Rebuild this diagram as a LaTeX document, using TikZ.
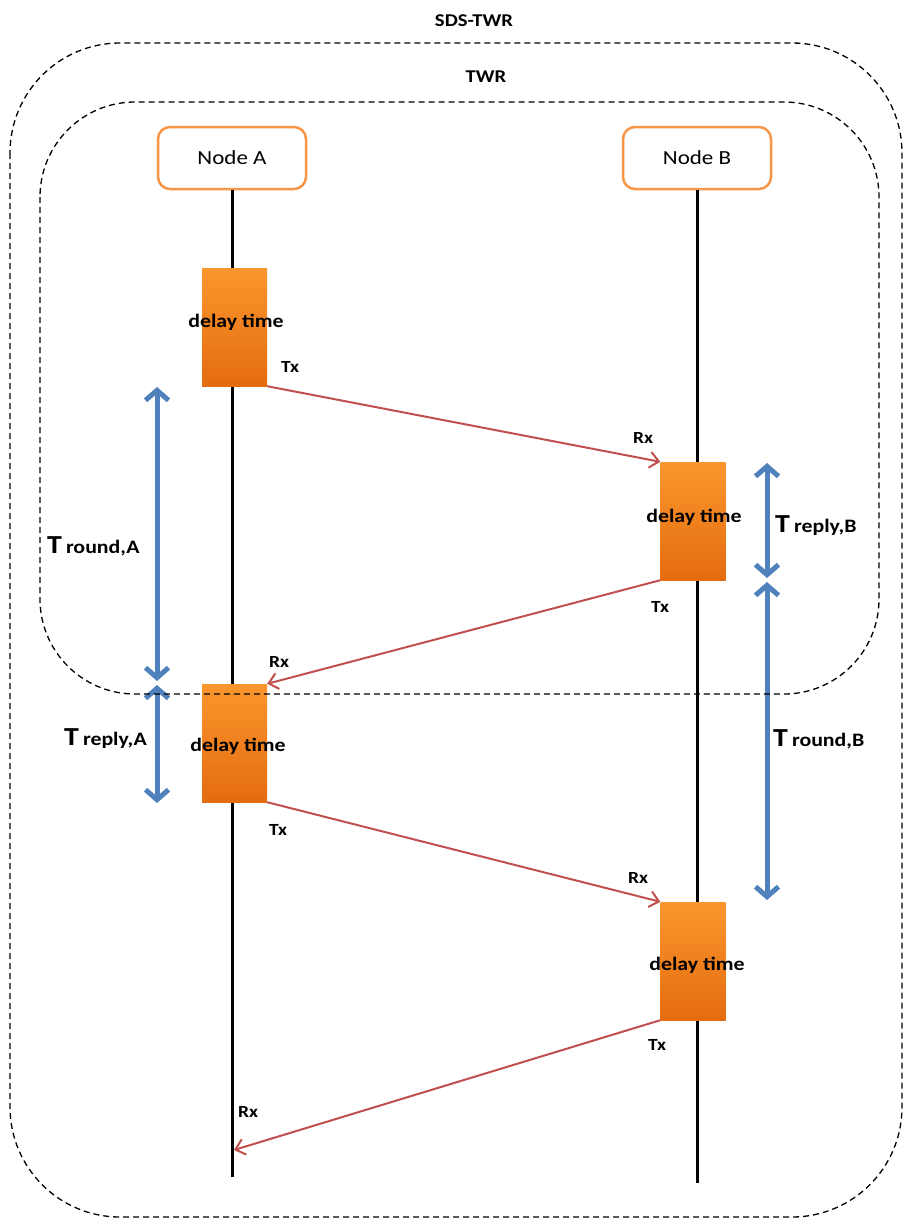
\documentclass[tikz,border=0pt]{standalone}
\usepackage{fontspec}
\setmainfont{Carlito}[FakeStretch=1.15]
\usetikzlibrary{arrows.meta}
\definecolor{nodeor}{RGB}{247,150,70}
\definecolor{redarr}{RGB}{192,80,77}
\definecolor{bluearr}{RGB}{79,129,189}
\definecolor{dtop}{RGB}{250,150,45}
\definecolor{dbot}{RGB}{228,108,15}
\newcommand{\tspan}[1]{{\fontsize{26}{30}\selectfont T}\hspace{4pt}{\fontsize{19}{22}\selectfont #1}}
\begin{document}
\begin{tikzpicture}[x=1pt,y=-1pt,
 nodebox/.style={draw=nodeor, line width=2.5pt, rounded corners=12pt, fill=white, minimum width=148pt, minimum height=62pt, font=\fontsize{20}{23}\selectfont},
 delaybox/.style={top color=dtop, bottom color=dbot, minimum width=65pt, minimum height=118pt, inner sep=0pt},
 dlabel/.style={font=\bfseries\fontsize{19}{22}\selectfont, inner sep=0pt},
 txrx/.style={font=\bfseries\fontsize{17}{20}\selectfont, inner sep=0pt},
 life/.style={line width=3pt},
 msg/.style={draw=redarr, line width=2pt, -{Straight Barb[length=9pt,width=16pt]}},
 span/.style={draw=bluearr, line width=5pt, {Straight Barb[length=10pt,width=23pt]}-{Straight Barb[length=10pt,width=23pt]}},
 frame/.style={line width=1.3pt, dash pattern=on 6pt off 4pt},
 ttl/.style={font=\bfseries\fontsize{18}{20}\selectfont},
 tlab/.style={anchor=base west, inner sep=0pt, font=\bfseries},
]
\useasboundingbox (0,0) rectangle (906,1221);

% titles
\node[ttl] (sds) at (474,21) {SDS-TWR};
\node[ttl] (twr) at (486,77) {TWR};

% participants
\node[nodebox] (nA) at (232,158) {Node A};
\node[nodebox] (nB) at (697,158) {Node B};
\coordinate (aend) at (232,1177);
\coordinate (bend) at (697,1183);
\draw[life] (nA.south) -- (aend);
\draw[life] (nB.south) -- (bend);

% delay boxes
\node[delaybox] (dA1) at (234.5,327) {};
\node[delaybox] (dB1) at (693,521) {};
\node[delaybox] (dA2) at (234.5,743) {};
\node[delaybox] (dB2) at (693,961) {};
\node[dlabel] (lA1) at (236,322) {delay time};
\node[dlabel] (lB1) at (694,517) {delay time};
\node[dlabel] (lA2) at (238,746) {delay time};
\node[dlabel] (lB2) at (697,965) {delay time};

% messages
\coordinate (rxA) at (234,1150);
\draw[msg] (dA1.south east) -- (dB1.north west);
\draw[msg] (dB1.south west) -- (dA2.north east);
\draw[msg] (dA2.south east) -- (dB2.north west);
\draw[msg] (dB2.south west) -- (rxA);

\node[txrx] (tx1) at (290,367) {Tx};
\node[txrx] (rx1) at (643,438) {Rx};
\node[txrx] (tx2) at (660,607) {Tx};
\node[txrx] (rx2) at (279,662) {Rx};
\node[txrx] (tx3) at (278,830) {Tx};
\node[txrx] (rx3) at (638,878) {Rx};
\node[txrx] (tx4) at (657,1045) {Tx};
\node[txrx] (rx4) at (248,1112) {Rx};

% time spans
\coordinate (ra1) at (157,387);
\coordinate (ra2) at (157,681);
\coordinate (pa1) at (157,685);
\coordinate (pa2) at (157,803);
\coordinate (pb1) at (767,463);
\coordinate (pb2) at (767,578);
\coordinate (rb1) at (767,582);
\coordinate (rb2) at (767,900);
\draw[span] (ra1) -- (ra2);
\draw[span] (pa1) -- (pa2);
\draw[span] (pb1) -- (pb2);
\draw[span] (rb1) -- (rb2);

\node[tlab] (tra) at (47,553) {\tspan{round,A}};
\node[tlab] (tpa) at (64,745) {\tspan{reply,A}};
\node[tlab] (tpb) at (775,532) {\tspan{reply,B}};
\node[tlab] (trb) at (773,746) {\tspan{round,B}};

% frames
\draw[frame, rounded corners=110pt] (10,43) rectangle (902,1217);
\draw[frame, rounded corners=95pt] (40,102) rectangle (879,694);
\end{tikzpicture}
\end{document}
